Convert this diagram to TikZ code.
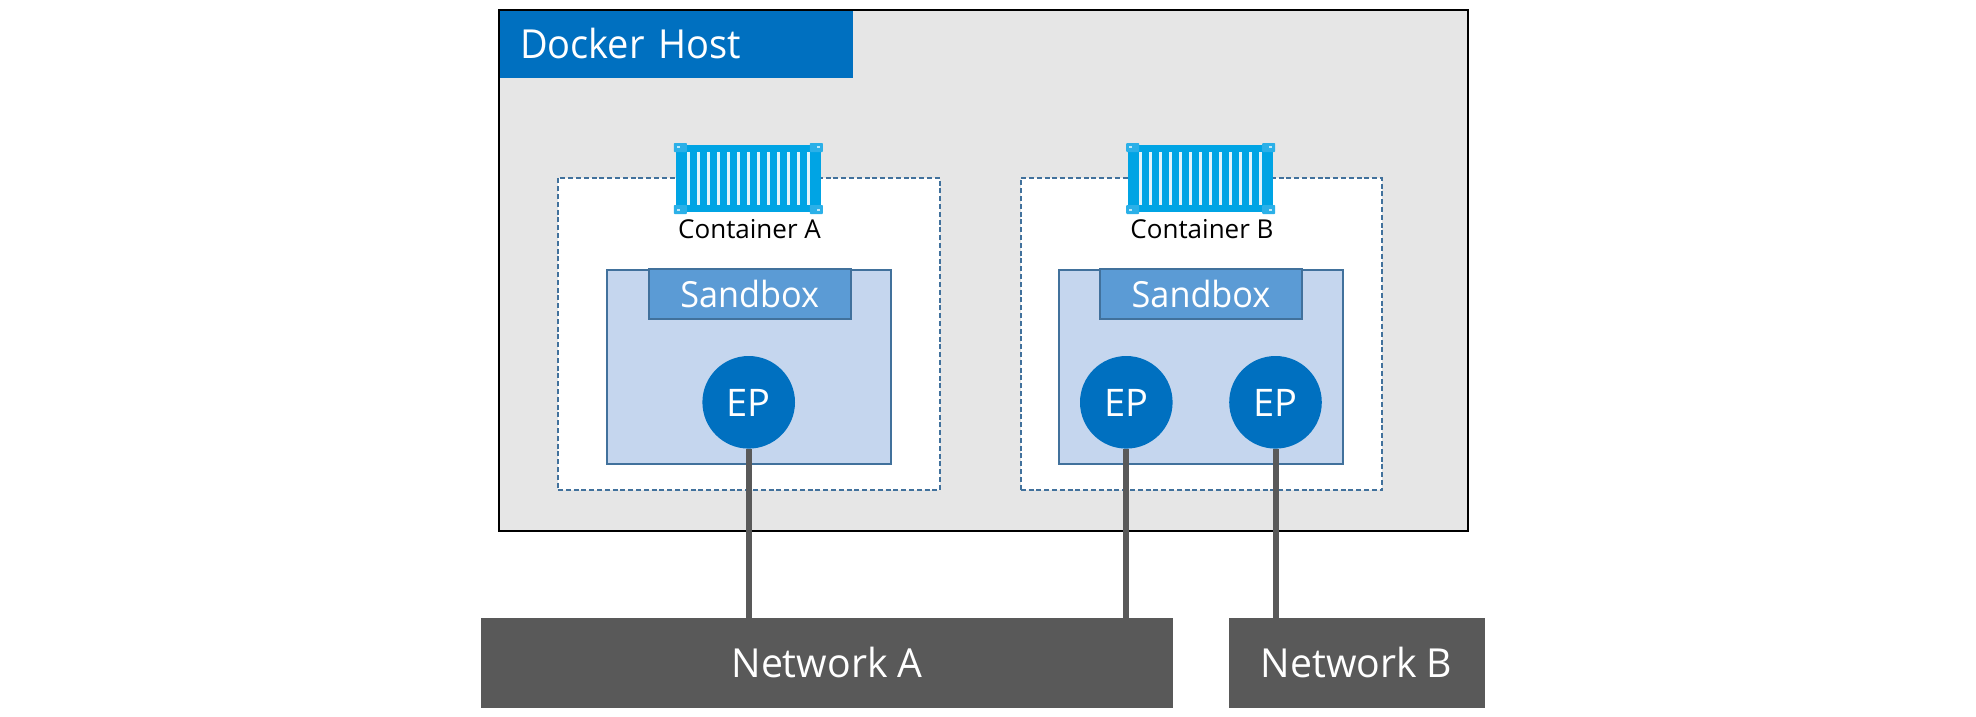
\documentclass[tikz,border=0pt]{standalone}
\usepackage{fontspec}
\setmainfont{Open Sans}
\newfontfamily\narrowfont[FakeStretch=0.95]{Open Sans}
\newfontfamily\netfont[FakeStretch=0.98]{Open Sans}
\definecolor{hostgrey}{HTML}{E6E6E6}
\definecolor{titleblue}{HTML}{0070C0}
\definecolor{edgeblue}{HTML}{41719C}
\definecolor{sandfill}{HTML}{C5D6EE}
\definecolor{tabfill}{HTML}{5B9BD5}
\definecolor{netgrey}{HTML}{595959}
\definecolor{iconblue}{HTML}{00A4E4}
\definecolor{iconcorner}{HTML}{2BB0E8}
\definecolor{iconstripe}{HTML}{E2F4FB}
\tikzset{
  box/.style={rectangle,inner sep=0pt,outer sep=0pt,anchor=center},
  hostbox/.style={box,draw=black,line width=2pt,fill=hostgrey,minimum width=969pt,minimum height=521pt},
  titlebox/.style={box,fill=titleblue,text=white,minimum width=353pt,minimum height=67pt,
    font=\narrowfont\fontsize{40}{40}\selectfont,text height=28.4pt,text depth=0pt,align=left,text width=313pt,inner xsep=20pt},
  containerbox/.style={box,draw=edgeblue,line width=1.7pt,dash pattern=on 5pt off 2.8pt,fill=white,minimum height=312pt},
  sandbox/.style={box,draw=edgeblue,line width=1.8pt,fill=sandfill,minimum width=284.5pt,minimum height=194pt},
  tabbox/.style={box,draw=edgeblue,line width=1.9pt,fill=tabfill,text=white,minimum width=202pt,minimum height=50pt,
    font=\narrowfont\fontsize{36}{36}\selectfont,text height=27pt,text depth=0pt},
  endpoint/.style={circle,inner sep=0pt,outer sep=0pt,fill=titleblue,text=white,minimum size=92.6pt,
    font=\fontsize{38}{38}\selectfont,text height=28.8pt,text depth=0pt},
  netbox/.style={box,fill=netgrey,text=white,minimum height=90pt,
    font=\netfont\fontsize{40}{40}\selectfont,text height=29pt,text depth=0pt},
  link/.style={draw=netgrey,line width=6pt},
  caption/.style={inner sep=0pt,outer sep=0pt,anchor=base,text=black,font=\fontsize{26}{26}\selectfont},
  shipbody/.style={box,fill=iconblue,minimum width=145pt,minimum height=67pt},
  shipcorner/.style={fill=iconcorner,rounded corners=0.8pt},
  shipstripe/.style={fill=iconstripe},
  ship/.pic={
    \node[shipbody] (-body) at (0,0) {};
    \foreach \sx in {-1,1} \foreach \sy in {-1,1} {
      \fill[shipcorner] ({\sx*68-6.5},{\sy*31-4.5}) rectangle ++(13,9);
      \fill[white!75!iconblue] ({\sx*70-1.5},{\sy*31.5-1}) rectangle ++(3,2);
    }
    \foreach \k in {-6,...,6}
      \fill[shipstripe] ({\k*10-1.6},-26.8) rectangle ({\k*10+1.6},26.8);
  }
}
\begin{document}
\begin{tikzpicture}[x=1pt,y=-1pt]
\useasboundingbox (0,0) rectangle (1976,716);
\fill[white] (0,0) rectangle (1976,716);
% host
\node[hostbox] (host) at (983.75,270.5) {};
\node[titlebox] (title) at (676.5,44.5) {Docker Host};
% containers
\node[containerbox,minimum width=382pt] (ca) at (749,334) {};
\node[containerbox,minimum width=361.5pt] (cb) at (1201.5,334) {};
% sandboxes
\node[sandbox] (sa) at (749,367) {};
\node[sandbox] (sb) at (1201,367) {};
\node[tabbox] (ta) at (749.7,294) {Sandbox};
\node[tabbox] (tb) at (1201,294) {Sandbox};
% endpoints
\node[endpoint] (epa) at (748.7,402.3) {EP};
\node[endpoint] (epb) at (1126.3,402.3) {EP};
\node[endpoint] (epc) at (1275.5,402.3) {EP};
% networks
\node[netbox,minimum width=692pt] (neta) at (827,663) {Network A};
\node[netbox,minimum width=256pt] (netb) at (1356.5,663) {Network B};
% links
\draw[link] (epa.south) -- (epa.south |- neta.north);
\draw[link] (epb.south) -- (epb.south |- neta.north);
\draw[link] (epc.south) -- (epc.south |- netb.north);
% icons and captions
\pic (ia) at (748.3,178.5) {ship};
\pic (ib) at (1200.7,178.5) {ship};
\node[caption] (la) at (749.5,238.5) {Container A};
\node[caption] (lb) at (1202,238.5) {Container B};
\end{tikzpicture}
\end{document}
